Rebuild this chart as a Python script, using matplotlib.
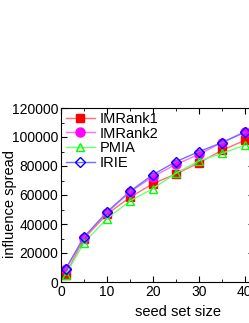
import matplotlib
matplotlib.use("Agg")
import matplotlib.pyplot as plt
from matplotlib.ticker import MultipleLocator

plt.rcParams['font.family'] = ['Liberation Sans', 'DejaVu Sans']

seed_sizes = [1, 5, 10, 15, 20, 25, 30, 35, 40]
imrank1 = [5000, 29900, 46700, 58400, 67800, 74500, 82100, 90800, 97700]
imrank2 = [8700, 30600, 47800, 62100, 72600, 81100, 88000, 96100, 103700]
pmia = [4800, 27100, 43700, 55900, 64400, 75000, 83500, 88700, 94300]
irie = [8900, 31000, 48300, 62500, 74000, 83000, 89900, 96100, 103200]

W, H = 249, 323
fig = plt.figure(figsize=(W / 100, H / 100), dpi=100)
left, right_px, top, bottom = 61, 254, 108, 282
aw = right_px - left
ax = fig.add_axes([left / W, 1 - bottom / H, aw / W, (bottom - top) / H])

series = [
    ("IMRank1", imrank1, "#ff7070", "#ff0000", "s", "#ff0000", 5.5),
    ("IMRank2", imrank2, "#ff70ff", "#ff00ff", "o", "#ff00ff", 6.5),
    ("PMIA", pmia, "#70ff70", "#00ff00", "^", "none", 6),
    ("IRIE", irie, "#7070ff", "#0000ff", "D", "none", 5),
]
for name, vals, lc, mc, mk, mfc, ms in series:
    ax.plot(seed_sizes, vals, color=lc, lw=1.0, marker=mk, markersize=ms,
            markeredgecolor=mc, markerfacecolor=mfc, markeredgewidth=1.0, label=name)

ax.set_xlim(0, 42)
ax.set_ylim(0, 120000)
ax.xaxis.set_major_locator(MultipleLocator(10))
ax.xaxis.set_minor_locator(MultipleLocator(5))
ax.yaxis.set_major_locator(MultipleLocator(20000))
ax.yaxis.set_minor_locator(MultipleLocator(10000))
ax.tick_params(which='both', direction='in', top=True, right=True, labelsize=10, pad=2)
ax.tick_params(which='major', length=4)
ax.tick_params(which='minor', length=2)
ax.set_xticks([0, 10, 20, 30, 40])
ax.set_xticklabels(['0', '10', '20', '30', '40'])

ax.set_xlabel("seed set size", fontsize=10.5)
ax.xaxis.set_label_coords((178 - left) / aw, -0.13)
ax.set_ylabel("influence spread", fontsize=10.5)
ax.yaxis.set_label_coords(-(61 - 17) / aw, 0.45)

leg = ax.legend(loc='upper left', frameon=False, fontsize=10.5, handlelength=2.0,
                handletextpad=0.3, labelspacing=0.05, borderaxespad=0.0,
                borderpad=0.2, bbox_to_anchor=(0.01, 0.995))

fig.savefig("out.png", dpi=100)
